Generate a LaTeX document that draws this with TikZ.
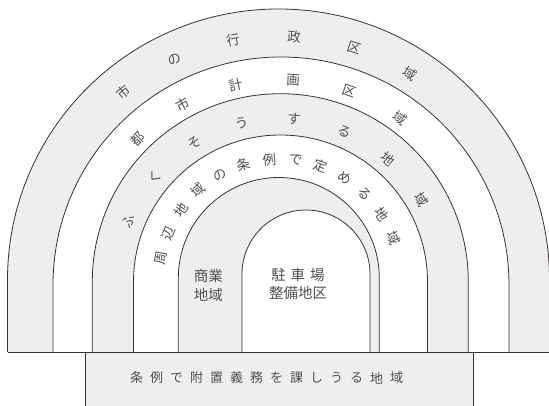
\documentclass[tikz,border=0pt]{standalone}
\usepackage{fontspec}
\newfontfamily\jp{Noto Sans CJK JP}
\definecolor{band}{HTML}{EEEEEE}
\definecolor{ln}{HTML}{3A3232}
\definecolor{tx}{HTML}{505050}
\tikzset{
  archline/.style={draw=ln, line width=0.8pt},
  arctext/.style={text=tx, font=\jp\fontsize{13.5}{13.5}\selectfont, inner sep=0pt},
  basetext/.style={text=tx, font=\jp\fontsize{13}{13}\selectfont, inner sep=0pt},
  innertext/.style={text=tx, font=\jp\fontsize{14.5}{18.5}\selectfont, inner sep=0pt, align=center},
}
\newcommand\myarch[5]{% left x, center x, center y, radius, fill
  \path[fill=#5] ({#2-#4},53) -- ({#2-#4},#3) arc[start angle=180,end angle=0,radius=#4] -- ({#2+#4},53) -- cycle;
  \draw[archline] ({#2-#4},53) -- ({#2-#4},#3) arc[start angle=180,end angle=0,radius=#4] -- ({#2+#4},53);
}
\begin{document}
\begin{tikzpicture}[x=1pt,y=1pt]
\useasboundingbox (0,0) rectangle (549,405);
\clip (0,0) rectangle (549,405);
\fill[white] (0,0) rectangle (549,405);
% arches, outer to inner
\myarch{}{278.5}{125}{271}{band}
\myarch{}{281}{120}{228}{white}
\myarch{}{280.3}{123.3}{188}{band}
\myarch{}{280.5}{123}{147}{white}
\myarch{}{278.8}{127}{100.5}{band}
\myarch{}{306}{131}{64}{white}
% base box
\fill[band] (85.7,-2) rectangle (473.5,53);
\draw[archline] (85.7,-2) -- (85.7,53);
\draw[archline] (473.5,-2) -- (473.5,53);
\draw[archline] (7.5,53) -- (549,53);
% band texts
\foreach \c [count=\i from 0] in {市,の,行,政,区,域} {
  \pgfmathsetmacro\a{129.5-14.3*\i}
  \node[arctext, rotate=\a-90] (p\i) at ({279.5+246*cos(\a)},{123+246*sin(\a)}) {\c};
}
\foreach \c [count=\i from 0] in {都,市,計,画,区,域} {
  \pgfmathsetmacro\a{134.8-16.08*\i}
  \node[arctext, rotate=\a-90] (q\i) at ({281+204*cos(\a)},{121+204*sin(\a)}) {\c};
}
\foreach \c [count=\i from 0] in {ふ,く,そ,う,す,る,地,域} {
  \pgfmathsetmacro\a{158.4-18.3*\i}
  \node[arctext, rotate=\a-90] (r\i) at ({280.4+163.5*cos(\a)},{123+163.5*sin(\a)}) {\c};
}
\foreach \c [count=\i from 0] in {周,辺,地,域,の,条,例,で,定,め,る,地,域} {
  \pgfmathsetmacro\a{169.7-12.44*\i}
  \node[arctext, rotate=\a-90] (s\i) at ({280+121*cos(\a)},{125+121*sin(\a)}) {\c};
}
% inner texts
\node[innertext] (shop) at (208.3,119.5) {商業\\地域};
\node[innertext] (park) at (298,121) {駐\hspace{5pt}車\hspace{5pt}場\\整備地区};
% base text
\foreach \c [count=\i from 0] in {条,例,で,附,置,義,務,を,課,し,う,る,地,域} {
  \node[basetext] (b\i) at ({136.5+20*\i},27) {\c};
}
\end{tikzpicture}
\end{document}
